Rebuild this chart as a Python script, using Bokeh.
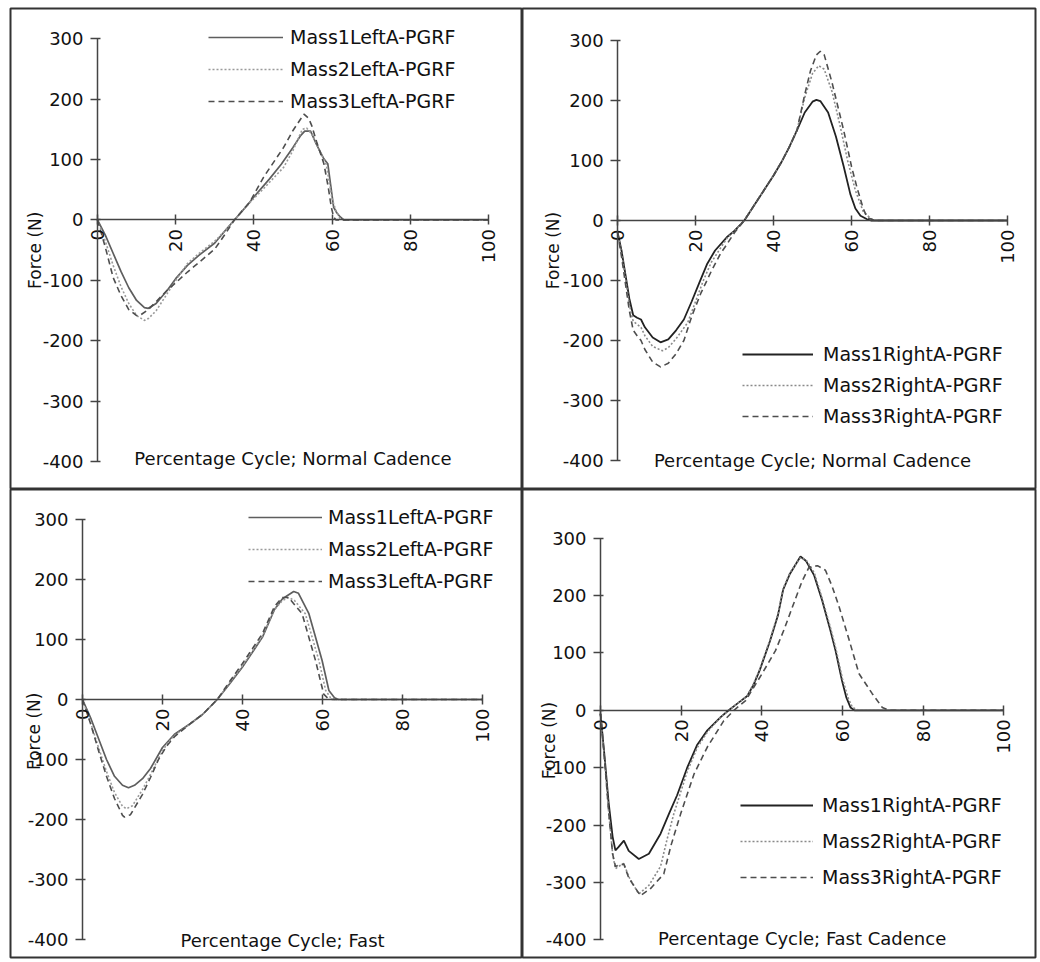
import math
from bokeh.plotting import figure
from bokeh.layouts import column, row
from bokeh.models import Range1d, FixedTicker, Label, Legend, LegendItem, LinearAxis
from bokeh.embed import file_html
from bokeh.resources import INLINE

X_TICKS = [0, 20, 40, 60, 80, 100]
Y_TICKS = [-400, -300, -200, -100, 0, 100, 200, 300]
Y_AXIS_TITLE = "Force (N)"

# ---- Panel 1: Left, normal cadence ----
P1_TITLE = "Percentage Cycle; Normal Cadence"
P1_NAMES = ["Mass1LeftA-PGRF", "Mass2LeftA-PGRF", "Mass3LeftA-PGRF"]
P1_X1 = [0, 2, 4, 6, 8, 10, 12, 13, 15, 18, 20, 23, 26, 30, 33, 35, 38, 40, 44, 47, 50, 52, 53, 54.5, 56, 57.9, 58.9, 60.4, 61.2, 62.1, 63, 100]
P1_Y1 = [0, -25, -55, -85, -112, -133, -145, -146, -138, -115, -97, -75, -58, -38, -15, 0, 22, 38, 68, 92, 120, 140, 147, 147, 125, 101, 93, 21, 12, 5, 0, 0]
P1_X2 = [0, 2, 4, 6, 8, 10, 12, 13, 15, 18, 20, 23, 26, 30, 33, 35, 39, 42.5, 47.6, 50, 52.4, 53.5, 55, 57, 58.5, 60, 61, 62, 63, 100]
P1_Y2 = [0, -35, -75, -110, -138, -158, -166, -163, -150, -120, -100, -72, -55, -35, -15, 0, 29, 52, 87, 115, 150, 152, 140, 112, 92, 35, 15, 3, 0, 0]
P1_X3 = [0, 2, 4, 6, 8, 10, 11, 13, 15, 18, 20, 23, 26, 30, 33, 35, 39, 42.5, 47.6, 50, 52.8, 54, 54.8, 56, 57.9, 59, 59.8, 60.4, 61, 100]
P1_Y3 = [0, -45, -95, -125, -148, -158, -157, -148, -135, -115, -104, -86, -70, -48, -20, 0, 30, 71, 120, 148, 175, 168, 156, 130, 93, 55, 21, 5, 0, 0]

# ---- Panel 2: Right, normal cadence ----
P2_TITLE = "Percentage Cycle; Normal Cadence"
P2_NAMES = ["Mass1RightA-PGRF", "Mass2RightA-PGRF", "Mass3RightA-PGRF"]
P2_X1 = [0, 1, 2, 3, 4, 5, 6, 7, 9, 11, 13, 15, 17, 19, 21, 23, 25, 28, 30, 32.5, 34, 36, 38, 40, 42, 44, 46, 48, 50, 51, 52, 54, 56, 58, 59.7, 61, 62.3, 64, 65, 100]
P2_Y1 = [-20, -50, -90, -130, -158, -162, -165, -178, -195, -203, -198, -183, -165, -135, -103, -72, -50, -28, -17, 0, 15, 35, 55, 75, 97, 122, 150, 180, 198, 201, 199, 180, 140, 90, 44, 20, 8, 2, 0, 0]
P2_X2 = [0, 1, 2, 3, 4, 5, 6, 7, 9, 11.5, 13, 15, 18, 20, 22, 24, 26, 28, 30, 32.5, 34, 36, 38, 40, 42, 44, 46, 48, 50, 51.6, 53, 55, 57, 59, 61, 63, 65, 66, 100]
P2_Y2 = [-20, -55, -95, -140, -168, -173, -178, -192, -210, -217, -212, -197, -170, -135, -100, -70, -50, -30, -17, 0, 15, 35, 55, 75, 97, 122, 150, 205, 245, 258, 252, 215, 160, 100, 50, 15, 3, 0, 0]
P2_X3 = [0, 1, 2, 3, 4, 5, 6, 7, 9, 11, 13, 15, 17, 19, 21.3, 24, 26.4, 28, 30, 32.5, 34, 36, 38, 40, 42, 44, 46, 48, 49.5, 51, 52, 53, 55, 58, 60, 61.4, 63, 64, 66, 100]
P2_Y3 = [-20, -60, -105, -150, -183, -192, -200, -215, -236, -244, -238, -222, -200, -160, -122, -85, -55, -40, -20, 0, 15, 35, 55, 75, 97, 122, 150, 210, 250, 276, 282, 276, 230, 150, 90, 55, 20, 5, 0, 0]

# ---- Panel 3: Left, fast ----
P3_TITLE = "Percentage Cycle; Fast"
P3_NAMES = ["Mass1LeftA-PGRF", "Mass2LeftA-PGRF", "Mass3LeftA-PGRF"]
P3_X1 = [0, 2, 4, 6, 8, 10, 11.5, 13, 15, 17, 20, 23, 27, 30, 33.7, 37, 40, 45, 48, 50, 52.8, 54, 56.6, 58, 59.9, 61.6, 63, 64, 100]
P3_Y1 = [0, -30, -65, -100, -128, -143, -147, -143, -132, -115, -80, -58, -40, -25, 0, 28, 54, 104, 150, 168, 180, 177, 143, 110, 65, 15, 3, 0, 0]
P3_X2 = [0, 2, 4, 6, 8, 10, 11, 12.5, 15, 17, 19, 21, 23, 27, 30, 33.7, 37, 40, 45, 48, 50, 51.6, 53, 55.7, 59.1, 60.8, 62, 63, 100]
P3_Y2 = [0, -38, -80, -120, -155, -178, -182, -177, -150, -125, -98, -75, -60, -40, -25, 0, 30, 56, 106, 150, 165, 170, 165, 143, 65, 15, 3, 0, 0]
P3_X3 = [0, 2, 4, 6, 8, 10, 10.5, 12, 15, 17, 19, 21, 23, 27, 30, 33.7, 37, 40, 45, 48, 49.9, 51.5, 54.9, 58.25, 60.3, 61.5, 62.5, 100]
P3_Y3 = [0, -40, -85, -128, -165, -193, -196, -192, -158, -130, -100, -78, -62, -40, -25, 0, 32, 60, 110, 155, 170, 170, 143, 65, 9, 1, 0, 0]

# ---- Panel 4: Right, fast cadence ----
P4_TITLE = "Percentage Cycle; Fast Cadence"
P4_NAMES = ["Mass1RightA-PGRF", "Mass2RightA-PGRF", "Mass3RightA-PGRF"]
P4_X1 = [0, 1, 2, 3, 3.7, 4.5, 5.8, 7, 9.5, 12, 14.9, 17, 19, 21.5, 24, 26.5, 29.8, 31.8, 34, 36.4, 38, 39.5, 42, 44, 45.3, 47, 49.6, 51, 53, 55, 57, 58.3, 59.9, 61, 62, 63, 100]
P4_Y1 = [-6, -80, -160, -220, -244, -238, -227, -245, -259, -250, -215, -180, -148, -100, -60, -35, -12, 0, 12, 25, 45, 70, 120, 165, 210, 238, 268, 260, 235, 191, 140, 104, 52, 22, 5, 0, 0]
P4_X2 = [0, 1, 2, 3, 3.7, 4.5, 5.8, 7, 9.5, 12, 14.9, 16.5, 18.2, 21.5, 24, 26.5, 29.8, 31.8, 34, 36.4, 38, 39.5, 42, 44, 45.3, 47, 49.6, 51, 53, 55, 57, 58.5, 60, 61.5, 62.5, 64, 100]
P4_Y2 = [-6, -85, -175, -250, -276, -272, -267, -290, -320, -305, -272, -225, -180, -107, -65, -38, -12, 0, 12, 25, 47, 72, 122, 168, 212, 240, 266, 262, 240, 195, 145, 104, 55, 20, 5, 0, 0]
P4_X3 = [0, 1, 2, 3, 3.7, 4.5, 5.8, 7, 9.9, 12.5, 15.7, 17.5, 19.9, 23.2, 26.5, 30.6, 33.1, 36, 40.1, 43.4, 45.5, 47.6, 50, 51.7, 53.8, 55.8, 57.5, 59.2, 61.7, 64.1, 67.4, 69.9, 71.5, 100]
P4_Y3 = [-6, -85, -175, -250, -272, -270, -268, -292, -323, -310, -285, -235, -180, -111, -64, -18, 0, 17, 64, 104, 140, 180, 225, 249, 252, 244, 215, 180, 122, 64, 29, 5, 0, 0]

FONT = "DejaVu Sans"
TXT = "#111111"
AX = "#444444"


def make_panel(cfg):
    p = figure(width=cfg["w"], height=cfg["h"],
               x_range=Range1d(*cfg["xr"]), y_range=Range1d(*cfg["yr"]),
               x_axis_type=None, y_axis_type=None,
               output_backend="svg", toolbar_location=None,
               min_border_left=cfg["mb"][0], min_border_right=cfg["mb"][1],
               min_border_top=cfg["mb"][2], min_border_bottom=cfg["mb"][3])
    p.outline_line_color = "#333333"
    p.outline_line_width = 2
    p.background_fill_color = "white"
    p.border_fill_color = "white"

    xa = LinearAxis(ticker=FixedTicker(ticks=X_TICKS), fixed_location=0, bounds=(0, 100))
    xa.major_label_orientation = math.pi / 2
    ya = LinearAxis(ticker=FixedTicker(ticks=Y_TICKS), fixed_location=0, bounds=(-400, 300))
    ya.major_label_overrides = {t: str(t) for t in Y_TICKS}
    for a in (xa, ya):
        a.axis_line_color = AX
        a.axis_line_width = 1.5
        a.major_tick_line_color = AX
        a.major_tick_line_width = 1.5
        a.minor_tick_line_color = None
        a.major_label_text_font = FONT
        a.major_label_text_font_size = "18px"
        a.major_label_text_color = TXT
    xa.major_tick_in = 5
    xa.major_tick_out = 5
    xa.major_label_standoff = 4
    ya.major_tick_in = 3
    ya.major_tick_out = 7
    ya.major_label_standoff = 7
    p.add_layout(xa, "below")
    p.add_layout(ya, "left")

    styles = cfg["styles"]
    rs = []
    for (xs, ys), st in zip(cfg["series"], styles):
        r = p.line(xs, ys, line_color=st[0], line_width=st[1], line_dash=st[2])
        rs.append(r)

    lg = Legend(items=[LegendItem(label=n, renderers=[r]) for n, r in zip(cfg["names"], rs)],
                location=cfg["lg_loc"], orientation="vertical",
                glyph_width=cfg["lg_gw"], glyph_height=22, label_height=22,
                label_standoff=cfg["lg_so"], spacing=cfg["lg_sp"], padding=0, margin=0,
                background_fill_alpha=0, border_line_alpha=0,
                label_text_font=FONT, label_text_font_size="19px", label_text_color=TXT)
    p.add_layout(lg)

    p.add_layout(Label(x=cfg["ylab"][0], y=cfg["ylab"][1], text=Y_AXIS_TITLE, angle=math.pi / 2,
                       text_align="center", text_baseline="middle", text_font=FONT,
                       text_font_size="17px", text_color=TXT))
    p.add_layout(Label(x=50, y=cfg["xlab_y"], text=cfg["title"], text_align="center",
                       text_baseline="middle", text_font=FONT, text_font_size="18px",
                       text_color=TXT))
    return p


light = [("#5e5e5e", 1.7, "solid"), ("#9a9a9a", 1.6, "2 2"), ("#4e4e4e", 1.6, "6 4")]
dark = [("#222222", 1.8, "solid"), ("#8a8a8a", 1.6, "2 2"), ("#4e4e4e", 1.6, "6 4")]

p1 = make_panel(dict(w=522, h=489, xr=(-22.25, 108.7), yr=(-445.5, 349.6), mb=(10, 0, 8, 0),
                     series=[(P1_X1, P1_Y1), (P1_X2, P1_Y2), (P1_X3, P1_Y3)], styles=light,
                     names=P1_NAMES, lg_loc=(198, 377), lg_gw=75, lg_so=7, lg_sp=10,
                     ylab=(-15.9, -50), xlab_y=-394, title=P1_TITLE))
p2 = make_panel(dict(w=518, h=489, xr=(-24.4, 107.2), yr=(-448.3, 353.3), mb=(0, 5, 8, 0),
                     series=[(P2_X1, P2_Y1), (P2_X2, P2_Y2), (P2_X3, P2_Y3)], styles=dark,
                     names=P2_NAMES, lg_loc=(220, 62), lg_gw=71, lg_so=10, lg_sp=9,
                     ylab=(-16.7, -50), xlab_y=-400, title=P2_TITLE))
p3 = make_panel(dict(w=522, h=473, xr=(-18, 110), yr=(-430, 350), mb=(10, 0, 0, 5),
                     series=[(P3_X1, P3_Y1), (P3_X2, P3_Y2), (P3_X3, P3_Y3)], styles=light,
                     names=P3_NAMES, lg_loc=(238, 365), lg_gw=74, lg_so=6, lg_sp=10,
                     ylab=(-12.25, -53), xlab_y=-401, title=P3_TITLE))
p4 = make_panel(dict(w=518, h=473, xr=(-19.35, 107.9), yr=(-430.7, 384.7), mb=(0, 5, 0, 5),
                     series=[(P4_X1, P4_Y1), (P4_X2, P4_Y2), (P4_X3, P4_Y3)], styles=dark,
                     names=P4_NAMES, lg_loc=(218, 69), lg_gw=73, lg_so=9, lg_sp=14,
                     ylab=(-12.9, -52.6), xlab_y=-397.6, title=P4_TITLE))

layout = column(row(p1, p2, spacing=0), row(p3, p4, spacing=0), spacing=0)
open("out.html", "w").write(file_html(layout, INLINE))
